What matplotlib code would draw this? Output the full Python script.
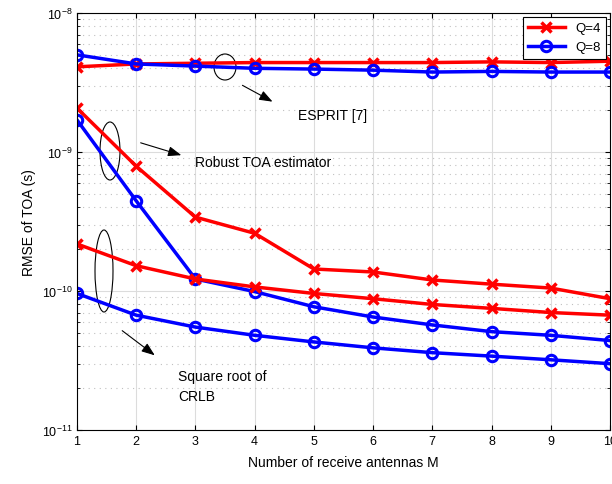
import matplotlib
matplotlib.use("Agg")
import matplotlib.pyplot as plt
from matplotlib.patches import Ellipse

plt.rcParams['font.family'] = ['Liberation Sans', 'DejaVu Sans']

M = [1, 2, 3, 4, 5, 6, 7, 8, 9, 10]

# ESPRIT [7]
esprit_q4 = [4.1e-9, 4.3e-9, 4.35e-9, 4.4e-9, 4.4e-9, 4.4e-9, 4.4e-9, 4.45e-9, 4.4e-9, 4.5e-9]
esprit_q8 = [5.0e-9, 4.3e-9, 4.15e-9, 4.0e-9, 3.95e-9, 3.88e-9, 3.76e-9, 3.8e-9, 3.76e-9, 3.76e-9]

# Robust TOA estimator
robust_q4 = [2.07e-9, 7.9e-10, 3.4e-10, 2.6e-10, 1.44e-10, 1.37e-10, 1.2e-10, 1.12e-10, 1.05e-10, 8.8e-11]
robust_q8 = [1.7e-9, 4.45e-10, 1.22e-10, 9.9e-11, 7.7e-11, 6.5e-11, 5.7e-11, 5.1e-11, 4.8e-11, 4.4e-11]

# Square root of CRLB
crlb_q4 = [2.18e-10, 1.52e-10, 1.22e-10, 1.07e-10, 9.6e-11, 8.8e-11, 8.0e-11, 7.5e-11, 7.0e-11, 6.7e-11]
crlb_q8 = [9.6e-11, 6.7e-11, 5.5e-11, 4.8e-11, 4.3e-11, 3.9e-11, 3.6e-11, 3.4e-11, 3.2e-11, 3.0e-11]

fig = plt.figure(figsize=(6.12, 4.85), dpi=100)
ax = fig.add_axes([77/612, 1 - 431/485, 533/612, 417/485])

red_style = dict(color='red', marker='x', markersize=7, markeredgewidth=2.5, linewidth=2.5)
blue_style = dict(color='blue', marker='o', markersize=7.5, markeredgewidth=2.2,
                  markerfacecolor='none', linewidth=2.5)

ax.semilogy(M, esprit_q4, label='Q=4', **red_style)
ax.semilogy(M, esprit_q8, label='Q=8', **blue_style)
ax.semilogy(M, robust_q4, **red_style)
ax.semilogy(M, robust_q8, **blue_style)
ax.semilogy(M, crlb_q4, **red_style)
ax.semilogy(M, crlb_q8, **blue_style)

ax.set_xlim(1, 10)
ax.set_ylim(1e-11, 1e-8)
ax.set_xticks(M)
ax.grid(True, which='major', color='#dcdcdc', linestyle='-', linewidth=0.8)
ax.grid(True, which='minor', axis='y', color='#c0c0c0', linestyle=(0, (1, 4)), linewidth=0.8)
ax.tick_params(which='both', direction='in', labelsize=9, top=True, right=True)
ax.set_axisbelow(True)
ax.set_xlabel('Number of receive antennas M', fontsize=10, labelpad=6)
ax.set_ylabel('RMSE of TOA (s)', fontsize=10)

leg = ax.legend(loc='upper right', fontsize=9.5, fancybox=False, framealpha=1,
                edgecolor='black', borderaxespad=0.3, handlelength=2.8)
leg.get_frame().set_linewidth(0.8)

def px(x, y):
    return ((x - 77) / 533, (431 - y) / 417)

# ellipses and arrows
for cx, cy, w, h in [(225, 68, 22, 26), (110, 152, 20, 58), (104, 272, 18, 82)]:
    ex, ey = px(cx, cy)
    ax.add_patch(Ellipse((ex, ey), w / 533, h / 417, transform=ax.transAxes,
                         fill=False, edgecolor='black', linewidth=0.8))

for (x0, y0), (x1, y1) in [((240, 85), (275, 104)), ((138, 143), (184, 157)), ((120, 330), (157, 358))]:
    ax.annotate('', xy=px(x1, y1), xytext=px(x0, y0), xycoords='axes fraction',
                textcoords='axes fraction',
                arrowprops=dict(arrowstyle='-|>,head_length=0.8,head_width=0.3',
                                color='black', linewidth=0.8))

ax.text(*px(298, 116), 'ESPRIT [7]', transform=ax.transAxes, fontsize=10, va='center')
ax.text(*px(195, 163), 'Robust TOA estimator', transform=ax.transAxes, fontsize=10, va='center')
ax.text(*px(178, 387), 'Square root of\nCRLB', transform=ax.transAxes, fontsize=10,
        va='center', linespacing=1.5)

fig.savefig('out.png', dpi=100)
